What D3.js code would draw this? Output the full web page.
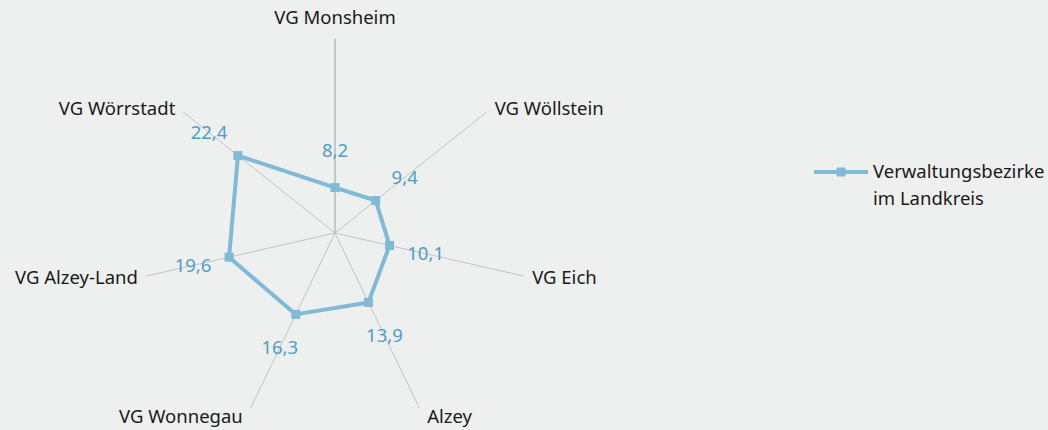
<!DOCTYPE html>
<html>
<head>
<meta charset="utf-8">
<script src="https://cdn.jsdelivr.net/npm/d3@7"></script>
<style>
  body { margin: 0; background: #eeefef; }
  svg { display: block; }
  text { font-family: "Noto Sans", sans-serif; }
</style>
</head>
<body>
<div id="chart"></div>
<script>
var categories = ["VG Monsheim", "VG Wöllstein", "VG Eich", "Alzey", "VG Wonnegau", "VG Alzey-Land", "VG Wörrstadt"];
var values = [8.2, 9.4, 10.1, 13.9, 16.3, 19.6, 22.4];
var seriesName = ["Verwaltungsbezirke", "im Landkreis"];
var maxValue = 35;

var width = 1048, height = 430;
var cx = 335, cy = 233, radius = 194;
var fontSize = 18.5;

var svg = d3.select("#chart").append("svg")
    .attr("width", width)
    .attr("height", height);

svg.append("rect")
    .attr("width", width)
    .attr("height", height)
    .attr("fill", "#eeefef");

var r = d3.scaleLinear().domain([0, maxValue]).range([0, radius]);
var angle = d3.scaleLinear().domain([0, categories.length]).range([0, 2 * Math.PI]);

function pos(i, rr) {
  var a = angle(i);
  return [cx + rr * Math.sin(a), cy - rr * Math.cos(a)];
}

// spokes
svg.append("g").selectAll("line")
  .data(categories)
  .join("line")
    .attr("x1", cx)
    .attr("y1", cy)
    .attr("x2", function(d, i) { return pos(i, radius)[0]; })
    .attr("y2", function(d, i) { return pos(i, radius)[1]; })
    .attr("stroke", function(d, i) { return i === 0 ? "#b8b8b8" : "#c4c4c4"; })
    .attr("stroke-width", function(d, i) { return i === 0 ? 1.5 : 1; });

// category labels, nudged off the spoke ends
var labelGap = 8;
svg.append("g").selectAll("text")
  .data(categories)
  .join("text")
    .attr("x", function(d, i) {
      var p = pos(i, radius);
      var s = Math.sin(angle(i));
      if (Math.abs(s) < 0.01) return p[0];
      return p[0] + (s > 0 ? labelGap : -labelGap);
    })
    .attr("y", function(d, i) {
      var p = pos(i, radius);
      var c = Math.cos(angle(i));
      if (i === 0) return p[1] - 21;
      if (c < -0.8) return p[1] + 9;
      if (c > 0.5) return p[1] - 4;
      return p[1] + 1;
    })
    .attr("dy", "0.35em")
    .attr("text-anchor", function(d, i) {
      var s = Math.sin(angle(i));
      if (Math.abs(s) < 0.01) return "middle";
      return s > 0 ? "start" : "end";
    })
    .attr("font-size", fontSize)
    .attr("fill", "#1a1a1a")
    .text(function(d) { return d; });

// series polygon
var line = d3.line().curve(d3.curveLinearClosed);
var pts = values.map(function(v, i) { return pos(i, r(v)); });

svg.append("path")
    .attr("d", line(pts))
    .attr("fill", "none")
    .attr("stroke", "#7fbad7")
    .attr("stroke-width", 4)
    .attr("stroke-linejoin", "round");

svg.append("g").selectAll("rect")
  .data(pts)
  .join("rect")
    .attr("x", function(d) { return d[0] - 4.5; })
    .attr("y", function(d) { return d[1] - 4.5; })
    .attr("width", 9)
    .attr("height", 9)
    .attr("fill", "#7fbad7");

// value labels
var fmt = function(v) { return d3.format(".1f")(v).replace(".", ","); };
svg.append("g").selectAll("text")
  .data(values)
  .join("text")
    .attr("x", function(v, i) { return pos(i, r(v) + 37)[0]; })
    .attr("y", function(v, i) { return pos(i, r(v) + 37)[1]; })
    .attr("dy", "0.35em")
    .attr("text-anchor", "middle")
    .attr("font-size", fontSize)
    .attr("fill", "#4d9fc4")
    .text(fmt);

// legend
var legend = svg.append("g").attr("transform", "translate(814,172)");
legend.append("line")
    .attr("x1", 0).attr("x2", 54)
    .attr("stroke", "#7fbad7")
    .attr("stroke-width", 4);
legend.append("rect")
    .attr("x", 22.5).attr("y", -4.5)
    .attr("width", 9).attr("height", 9)
    .attr("fill", "#7fbad7");
legend.selectAll("text")
  .data(seriesName)
  .join("text")
    .attr("x", 59)
    .attr("y", function(d, i) { return i * 27; })
    .attr("dy", "0.35em")
    .attr("font-size", fontSize)
    .attr("fill", "#1a1a1a")
    .text(function(d) { return d; });
</script>
</body>
</html>
